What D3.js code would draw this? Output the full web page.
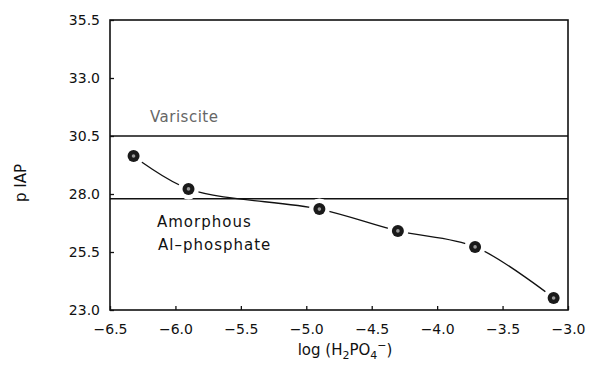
<!DOCTYPE html>
<html>
<head>
<meta charset="utf-8">
<script src="https://cdn.jsdelivr.net/npm/d3@7/dist/d3.min.js"></script>
<style>
  body { margin: 0; background: #fff; }
  text { font-family: "DejaVu Sans", sans-serif; fill: #111; }
  .tick-label { font-size: 14px; }
  .note { font-size: 15px; }
</style>
</head>
<body>
<svg id="chart" width="592" height="369"></svg>
<script>
// data
const logH2PO4 = [-6.32, -5.90, -4.90, -4.30, -3.71, -3.11];
const pIAP = [29.64, 28.22, 27.35, 26.41, 25.72, 23.52];
const xTicks = [-6.5, -6.0, -5.5, -5.0, -4.5, -4.0, -3.5, -3.0];
const yTicks = [23.0, 25.5, 28.0, 30.5, 33.0, 35.5];
const phaseNames = ['Variscite', 'Amorphous', 'Al\u2013phosphate'];
const phaseLevels = [30.5, 27.8];

const svg = d3.select('#chart');
const margin = { top: 20, right: 24, bottom: 59, left: 110 };
const width = +svg.attr('width');
const height = +svg.attr('height');
const innerWidth = width - margin.left - margin.right;
const innerHeight = height - margin.top - margin.bottom;

const xScale = d3.scaleLinear().domain([-6.5, -3.0]).range([0, innerWidth]);
const yScale = d3.scaleLinear().domain([23.0, 35.5]).range([innerHeight, 0]);

const g = svg.append('g')
  .attr('transform', `translate(${margin.left},${margin.top})`);

// frame
g.append('rect')
  .attr('width', innerWidth)
  .attr('height', innerHeight)
  .attr('fill', 'none')
  .attr('stroke', '#111')
  .attr('stroke-width', 1.6);

const fmt = v => d3.format('.1f')(v).replace('-', '\u2212');

// axes, ticks inward
const xAxisG = g.append('g')
  .attr('transform', `translate(0,${innerHeight})`)
  .call(d3.axisBottom(xScale).tickValues(xTicks).tickSize(-4).tickPadding(14).tickFormat(fmt));
const yAxisG = g.append('g')
  .call(d3.axisLeft(yScale).tickValues(yTicks).tickSize(-4).tickPadding(10).tickFormat(fmt));

[xAxisG, yAxisG].forEach(a => {
  a.select('.domain').remove();
  a.selectAll('.tick line').attr('stroke', '#111').attr('stroke-width', 1.3);
  a.selectAll('text').attr('class', 'tick-label').attr('fill', '#111');
});

// stability boundaries
g.selectAll('.level').data(phaseLevels)
  .enter().append('line')
    .attr('class', 'level')
    .attr('x1', 0)
    .attr('x2', innerWidth)
    .attr('y1', d => yScale(d))
    .attr('y2', d => yScale(d))
    .attr('stroke', '#111')
    .attr('stroke-width', 1.5);

g.append('text')
  .attr('class', 'note')
  .attr('x', 40)
  .attr('y', yScale(phaseLevels[0]) - 14)
  .style('fill', '#666')
  .style('letter-spacing', '0.5px')
  .text(phaseNames[0]);

g.append('text')
  .attr('class', 'note')
  .attr('x', 47)
  .attr('y', yScale(phaseLevels[1]) + 28)
  .style('letter-spacing', '1px')
  .text(phaseNames[1]);

g.append('text')
  .attr('class', 'note')
  .attr('x', 48)
  .attr('y', yScale(phaseLevels[1]) + 51)
  .style('letter-spacing', '1px')
  .text(phaseNames[2]);

// data curve
const pts = logH2PO4.map((x, i) => ({ x, y: pIAP[i] }));

g.append('path')
  .datum(pts)
  .attr('fill', 'none')
  .attr('stroke', '#111')
  .attr('stroke-width', 1.3)
  .attr('d', d3.line()
    .x(d => xScale(d.x))
    .y(d => yScale(d.y))
    .curve(d3.curveCatmullRom.alpha(0.5)));

// white halo makes the gap round each marker
g.selectAll('.halo').data(pts)
  .enter().append('circle')
    .attr('class', 'halo')
    .attr('cx', d => xScale(d.x))
    .attr('cy', d => yScale(d.y))
    .attr('r', 10.5)
    .attr('fill', '#fff');

g.selectAll('.dot').data(pts)
  .enter().append('circle')
    .attr('class', 'dot')
    .attr('cx', d => xScale(d.x))
    .attr('cy', d => yScale(d.y))
    .attr('r', 6)
    .attr('fill', '#1a1a1a');

g.selectAll('.dot-core').data(pts)
  .enter().append('circle')
    .attr('class', 'dot-core')
    .attr('cx', d => xScale(d.x))
    .attr('cy', d => yScale(d.y))
    .attr('r', 1.8)
    .attr('fill', '#999');

// axis titles
svg.append('text')
  .attr('transform', `translate(26,183) rotate(-90)`)
  .attr('text-anchor', 'middle')
  .style('font-size', '15px')
  .text('p IAP');

const xTitle = svg.append('text')
  .attr('x', margin.left + innerWidth / 2 + 6)
  .attr('y', height - 14)
  .attr('text-anchor', 'middle')
  .style('font-size', '15px');
xTitle.append('tspan').text('log (H');
xTitle.append('tspan').attr('dy', 4).style('font-size', '11px').text('2');
xTitle.append('tspan').attr('dy', -4).text('PO');
xTitle.append('tspan').attr('dy', 4).style('font-size', '11px').text('4');
xTitle.append('tspan').attr('dy', -10).style('font-size', '11px').text('\u2212');
xTitle.append('tspan').attr('dy', 6).text(')');
</script>
</body>
</html>
